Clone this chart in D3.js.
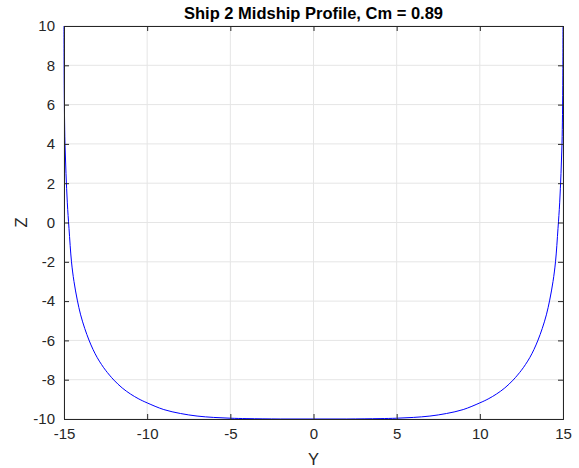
<!DOCTYPE html>
<html>
<head>
<meta charset="utf-8">
<script src="https://cdn.jsdelivr.net/npm/d3@7"></script>
<style>
  body { margin: 0; background: #fff; }
  text { font-family: "Liberation Sans", Arial, sans-serif; }
</style>
</head>
<body>
<div id="chart-area"></div>
<script>
// Midship section points (Y = half-breadth, Z = height)
var profileY = [-15, -14.99, -14.97, -14.94, -14.88, -14.8, -14.7, -14.55, -14.4, -14.2, -14, -13.75, -13.5, -13.25, -13, -12.75, -12.5, -12, -11.5, -11, -10.5, -10, -9, -8, -7, -6, -5, -4, -2,
    0, 2, 4, 5, 6, 7, 8, 9, 10, 10.5, 11, 11.5, 12, 12.5, 12.75, 13, 13.25, 13.5, 13.75, 14, 14.2, 14.4, 14.55, 14.7, 14.8, 14.88, 14.94, 14.97, 14.99, 15];
var profileZ = [10, 7.5, 5.5, 4.0, 2.5, 1.0, -0.3, -2.0, -3.0, -3.95, -4.7, -5.4, -5.98, -6.47, -6.88, -7.22, -7.52, -8.02, -8.42, -8.73, -8.98, -9.18, -9.52, -9.72, -9.85, -9.92, -9.96, -9.98, -10,
    -10, -10, -9.98, -9.96, -9.92, -9.85, -9.72, -9.52, -9.18, -8.98, -8.73, -8.42, -8.02, -7.52, -7.22, -6.88, -6.47, -5.98, -5.4, -4.7, -3.95, -3.0, -2.0, -0.3, 1.0, 2.5, 4.0, 5.5, 7.5, 10];

var xTicks = [-15, -10, -5, 0, 5, 10, 15];
var yTicks = [-10, -8, -6, -4, -2, 0, 2, 4, 6, 8, 10];

var chartTitle = "Ship 2 Midship Profile, Cm = 0.89";

var margin = { left: 64, right: 16, top: 26, bottom: 49 };
var width = 579 - margin.left - margin.right,
    height = 468 - margin.top - margin.bottom;

var svg = d3.select("#chart-area")
    .append("svg")
    .attr("width", 579)
    .attr("height", 468);

var g = svg.append("g")
    .attr("transform", "translate(" + margin.left + ", " + margin.top + ")");

var x = d3.scaleLinear().domain([-15, 15]).range([0, width]);
var y = d3.scaleLinear().domain([-10, 10]).range([height, 0]);

// grid
g.append("g").selectAll("line")
    .data(xTicks)
    .enter().append("line")
    .attr("x1", function (d) { return x(d); })
    .attr("x2", function (d) { return x(d); })
    .attr("y1", 0).attr("y2", height)
    .attr("stroke", "#e5e5e5").attr("stroke-width", 1);

g.append("g").selectAll("line")
    .data(yTicks)
    .enter().append("line")
    .attr("y1", function (d) { return y(d); })
    .attr("y2", function (d) { return y(d); })
    .attr("x1", 0).attr("x2", width)
    .attr("stroke", "#e5e5e5").attr("stroke-width", 1);

// curve
var pts = profileY.map(function (d, i) { return i; });
var line = d3.line()
    .x(function (i) { return x(profileY[i]); })
    .y(function (i) { return y(profileZ[i]); })
    .curve(d3.curveCatmullRom.alpha(0.5));

g.append("path")
    .datum(pts)
    .attr("d", line)
    .attr("fill", "none")
    .attr("stroke", "#0000ff")
    .attr("stroke-width", 1);

// axes (ticks inward, MATLAB style)
var fmt = function (d) { return String(d); };

var xAxisCall = d3.axisBottom(x).tickValues(xTicks).tickSize(-5).tickPadding(9).tickFormat(fmt);
g.append("g")
    .attr("class", "x axis")
    .attr("transform", "translate(0, " + height + ")")
    .call(xAxisCall);

var yAxisCall = d3.axisLeft(y).tickValues(yTicks).tickSize(-5).tickPadding(9).tickFormat(fmt);
g.append("g")
    .attr("class", "y axis")
    .call(yAxisCall);

// top and right box edges with ticks
g.append("g").call(d3.axisTop(x).tickValues(xTicks).tickSize(-5).tickFormat(""));
g.append("g")
    .attr("transform", "translate(" + width + ", 0)")
    .call(d3.axisRight(y).tickValues(yTicks).tickSize(-5).tickFormat(""));

g.selectAll(".domain").attr("stroke", "#262626").attr("stroke-width", 1);
g.selectAll(".tick line").attr("stroke", "#262626");
g.selectAll(".tick text")
    .attr("fill", "#262626")
    .attr("font-size", "15px")
    .attr("font-family", "Liberation Sans, Arial, sans-serif");

// Title
svg.append("text")
    .attr("x", margin.left + width / 2)
    .attr("y", 19)
    .attr("text-anchor", "middle")
    .attr("font-size", "16.5px")
    .attr("font-weight", "bold")
    .attr("fill", "#000")
    .text(chartTitle);

// X label
svg.append("text")
    .attr("x", margin.left + width / 2)
    .attr("y", 464.5)
    .attr("text-anchor", "middle")
    .attr("font-size", "16.5px")
    .attr("fill", "#262626")
    .text("Y");

// Y label
svg.append("text")
    .attr("x", -(margin.top + height / 2))
    .attr("y", 27)
    .attr("text-anchor", "middle")
    .attr("font-size", "16.5px")
    .attr("fill", "#262626")
    .attr("transform", "rotate(-90)")
    .text("Z");
</script>
</body>
</html>
